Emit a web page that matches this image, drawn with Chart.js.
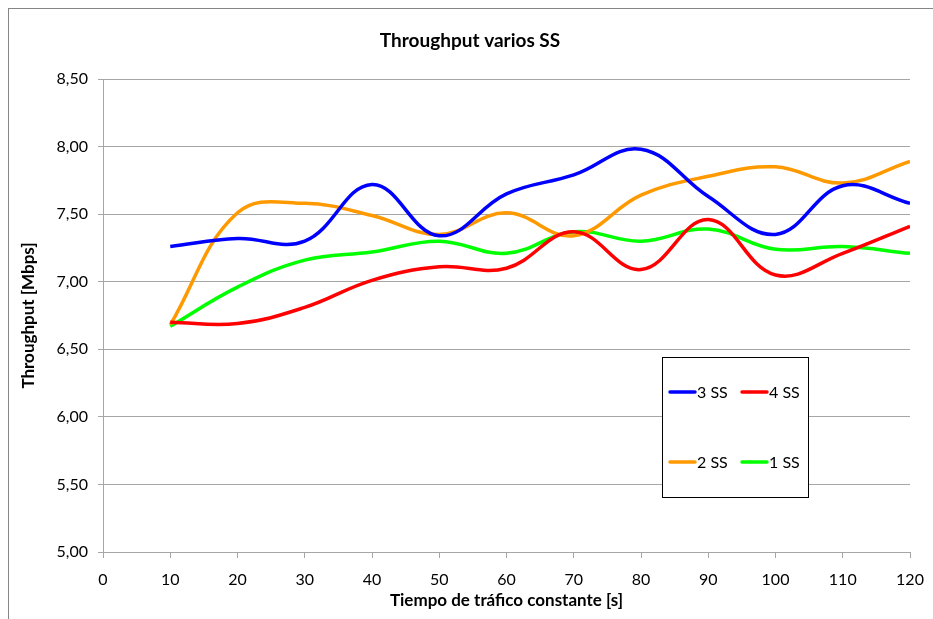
<!DOCTYPE html>
<html>
<head>
<meta charset="utf-8">
<script src="https://cdn.jsdelivr.net/npm/chart.js@4.4.1/dist/chart.umd.min.js"></script>
<style>
  html, body { margin: 0; padding: 0; background: #fff; }
  #wrap { width: 933px; height: 619px; position: relative; }
</style>
</head>
<body>
<div id="wrap"><canvas id="grafico"></canvas></div>
<script>
// Datos
const tiempos = [10, 20, 30, 40, 50, 60, 70, 80, 90, 100, 110, 120];
const ss3 = [7.26, 7.32, 7.30, 7.72, 7.34, 7.65, 7.79, 7.98, 7.63, 7.35, 7.71, 7.58];
const ss4 = [6.70, 6.69, 6.81, 7.01, 7.11, 7.10, 7.37, 7.09, 7.46, 7.05, 7.21, 7.41];
const ss2 = [6.68, 7.51, 7.58, 7.49, 7.35, 7.51, 7.34, 7.64, 7.78, 7.85, 7.73, 7.89];
const ss1 = [6.67, 6.96, 7.16, 7.22, 7.30, 7.21, 7.37, 7.30, 7.39, 7.24, 7.26, 7.21];
const nombres = ['3 SS', '4 SS', '2 SS', '1 SS'];
const colores = ['#0000ff', '#ff0000', '#ff9900', '#00ff00'];

const FUENTE = "Lato, 'Open Sans', sans-serif";
const GRIS = '#a6a6a6';

const serie = (vals) => tiempos.map((t, i) => ({ x: t, y: vals[i] }));

// Marco, título y leyenda (cuadro dentro del área)
const extras = {
    id: 'extras',
    beforeDraw(chart) {
        const c = chart.ctx;
        c.save();
        c.fillStyle = '#fff';
        c.fillRect(0, 0, chart.width, chart.height);
        c.strokeStyle = '#868686';
        c.lineWidth = 1;
        c.strokeRect(8.5, 8.5, chart.width + 10, chart.height + 10);
        c.restore();
    },
    afterDraw(chart) {
        const c = chart.ctx;
        c.save();
        c.fillStyle = '#000';
        c.font = "bold 19px " + FUENTE;
        c.textAlign = 'center';
        c.textBaseline = 'middle';
        c.fillText('Throughput varios SS', 470, 41);

        // leyenda
        c.fillStyle = '#fff';
        c.fillRect(662.5, 357.5, 146, 140);
        c.strokeStyle = '#000';
        c.lineWidth = 1;
        c.strokeRect(662.5, 357.5, 146, 140);
        const pos = [[670, 392], [742, 392], [670, 462], [742, 462]];
        c.font = "16px " + FUENTE;
        c.textAlign = 'left';
        chart.data.datasets.forEach((ds, i) => {
            const [px, py] = pos[i];
            c.strokeStyle = ds.borderColor;
            c.lineWidth = 3.5;
            c.lineCap = 'round';
            c.beginPath();
            c.moveTo(px, py);
            c.lineTo(px + 25, py);
            c.stroke();
            c.fillStyle = '#000';
            c.fillText(ds.label, px + 27, py + 1);
        });
        c.restore();
    }
};

new Chart(document.getElementById('grafico'), {
    type: 'line',
    data: {
        datasets: nombres.map((n, i) => ({
            label: n,
            data: serie([ss3, ss4, ss2, ss1][i]),
            borderColor: colores[i],
            backgroundColor: colores[i],
            borderWidth: 3.5,
            pointRadius: 0,
            tension: 0.4,
            fill: false
        }))
    },
    options: {
        responsive: true,
        maintainAspectRatio: false,
        animation: false,
        layout: { padding: { left: 0, top: 79, right: 23, bottom: 0 } },
        plugins: {
            legend: { display: false },
            tooltip: { enabled: false },
            title: { display: false }
        },
        scales: {
            x: {
                type: 'linear',
                min: 0,
                max: 120,
                afterFit: (s) => { s.height = 67; },
                ticks: {
                    stepSize: 10,
                    color: '#000',
                    padding: 4,
                    font: { family: FUENTE, size: 16, lineHeight: 2.2 }
                },
                grid: {
                    drawOnChartArea: false,
                    drawTicks: true,
                    tickLength: 6,
                    color: GRIS
                },
                border: { color: GRIS, width: 1 },
                title: {
                    display: true,
                    text: 'Tiempo de tráfico constante [s]',
                    color: '#000',
                    font: { family: FUENTE, size: 17, weight: 'bold' },
                    padding: { top: 0, bottom: 8 }
                }
            },
            y: {
                min: 5,
                max: 8.5,
                afterFit: (s) => { s.width = 103; },
                ticks: {
                    stepSize: 0.5,
                    color: '#000',
                    padding: 10,
                    font: { family: FUENTE, size: 16 },
                    callback: (v) => v.toFixed(2).replace('.', ',')
                },
                grid: {
                    drawTicks: true,
                    tickLength: 5,
                    color: GRIS
                },
                border: { color: GRIS, width: 1 },
                title: {
                    display: true,
                    text: 'Throughput [Mbps]',
                    color: '#000',
                    font: { family: FUENTE, size: 17, weight: 'bold' },
                    padding: { top: 18, bottom: 0 }
                }
            }
        }
    },
    plugins: [extras]
});
</script>
</body>
</html>
